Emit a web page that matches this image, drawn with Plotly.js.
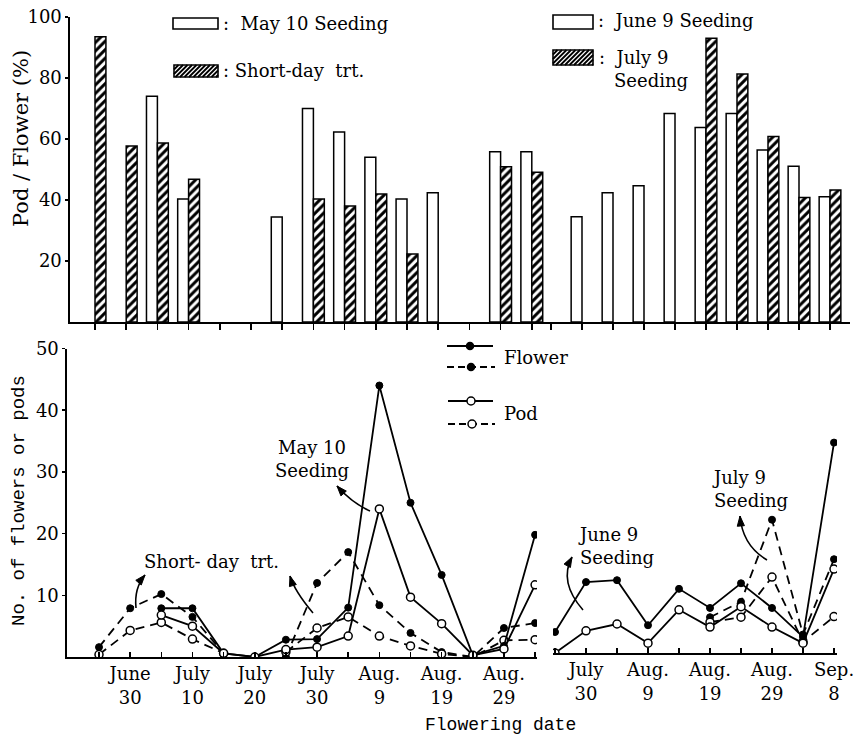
<!DOCTYPE html>
<html><head><meta charset="utf-8">
<script src="https://cdn.plot.ly/plotly-3.0.1.min.js"></script>
<style>html,body{margin:0;padding:0;background:#fff}#chart{width:855px;height:736px}</style>
</head><body><div id="chart"></div>
<script>
// ================= DATA =================
// Top panel: Pod / Flower (%)
const may10RatioDates = ['Jul 5','Jul 10','Jul 25','Jul 30','Aug 4','Aug 9','Aug 14','Aug 19','Aug 29','Sep 3'];
const may10Ratio      = [74, 40.3, 34.4, 70, 62.3, 54, 40.3, 42.4, 55.8, 55.8];
const shortDayRatioDates = ['Jun 25','Jun 30','Jul 5','Jul 10','Jul 30','Aug 4','Aug 9','Aug 14','Aug 29','Sep 3'];
const shortDayRatio      = [93.5, 57.7, 58.7, 46.8, 40.3, 38, 42, 22.3, 50.9, 49.1];
const june9RatioDates = ['Jul 30','Aug 4','Aug 9','Aug 14','Aug 19','Aug 24','Aug 29','Sep 3','Sep 8'];
const june9Ratio      = [34.5, 42.4, 44.7, 68.4, 63.8, 68.4, 56.4, 51.1, 41.1];
const july9RatioDates = ['Aug 19','Aug 24','Aug 29','Sep 3','Sep 8'];
const july9Ratio      = [93, 81.3, 60.8, 40.8, 43.3];

// Bottom panel, left part (May 10 seeding and short-day treatment)
const leftDates      = ['Jun 25','Jun 30','Jul 5','Jul 10','Jul 15','Jul 20','Jul 25','Jul 30','Aug 4','Aug 9','Aug 14','Aug 19','Aug 24','Aug 29','Sep 3'];
const shortDayFlower = [1.6, 7.9, 10.2, 6.5, 0.6, null, 0, 12.0, 17.0, 8.4, 3.9, 0.8, 0, 4.7, 5.5];
const shortDayPod    = [0.4, 4.3, 5.6, 2.9, 0.6, null, 0.8, 4.7, 6.5, 3.4, 1.8, 0.5, 0, 2.7, 2.8];
const may10Flower    = [null, null, 7.9, 7.9, 0.6, 0, 2.8, 2.9, 8.0, 44.0, 25.0, 13.3, 0.3, 1.8, 19.8];
const may10Pod       = [null, null, 6.8, 5.0, 0.6, 0, 1.2, 1.6, 3.4, 24.0, 9.7, 5.4, 0.3, 1.3, 11.7];

// Bottom panel, right part (June 9 and July 9 seedings)
const rightDates  = ['Jul 25','Jul 30','Aug 4','Aug 9','Aug 14','Aug 19','Aug 24','Aug 29','Sep 3','Sep 8'];
const june9Flower = [3.4, 11.5, 11.8, 4.5, 10.4, 7.3, 11.3, 7.3, 2.6, 34.1];
const june9Pod    = [0, 3.6, 4.7, 1.6, 7.0, 4.2, 7.5, 4.2, 1.6, 13.6];
const july9Flower = [null, null, null, null, null, 5.8, 8.3, 21.6, 3.0, 15.2];
const july9Pod    = [null, null, null, null, null, 5.0, 5.8, 12.3, 1.8, 5.9];

// Tick marks and labels
const topLeftTickDates  = ['Jun 25','Jun 30','Jul 5','Jul 10','Jul 15','Jul 20','Jul 25','Jul 30','Aug 4','Aug 9','Aug 14','Aug 19','Aug 24','Aug 29','Sep 3'];
const topRightTickDates = ['Jul 25','Jul 30','Aug 4','Aug 9','Aug 14','Aug 19','Aug 24','Aug 29','Sep 3','Sep 8'];
const leftLabelDates  = ['Jun 30','Jul 10','Jul 20','Jul 30','Aug 9','Aug 19','Aug 29'];
const leftLabels      = ['June<br>30','July<br>10','July<br>20','July<br>30','Aug.<br>9','Aug.<br>19','Aug.<br>29'];
const rightLabelDates = ['Jul 30','Aug 9','Aug 19','Aug 29','Sep 8'];
const rightLabels     = ['July<br>30','Aug.<br>9','Aug.<br>19','Aug.<br>29','Sep.<br>8'];
const ratioTicks = [20, 40, 60, 80, 100];
const countTicks = [10, 20, 30, 40, 50];

// ================= HELPERS =================
const W = 855, H = 736;
const px = v => v / W;
const py = v => 1 - v / H;
const MONTH_START = {Jun: 0, Jul: 30, Aug: 61, Sep: 92};
const day = s => { const p = s.split(' '); return MONTH_START[p[0]] + Number(p[1]); };
const days = arr => arr.map(day);
function rangeFor(pxRef, dRef, pxPerDay, left, right) {
  return [dRef + (left - pxRef) / pxPerDay, dRef + (right - pxRef) / pxPerDay];
}
function tickText(all, labDates, labs) {
  return all.map(d => { const i = labDates.indexOf(d); return i >= 0 ? labs[i] : ''; });
}

const SERIF = 'DejaVu Serif, serif';
const MONO = 'Liberation Mono, monospace';
const BAR_W = 1.75;
const hatch = {shape: '/', fgcolor: '#000', bgcolor: '#fff', size: 6, solidity: 0.5};
const barLine = {color: '#000', width: 1.5};
const solid = {color: '#000', width: 1.8};
const dashed = {color: '#000', width: 1.8, dash: '9px,6px'};
const filledM = {symbol: 'circle', size: 7, color: '#000', line: {color: '#000', width: 1}};
const openM = {symbol: 'circle', size: 8, color: '#fff', line: {color: '#000', width: 1.5}};

function bar(dates, vals, xa, hatched) {
  return {type: 'bar', x: days(dates), y: vals, width: BAR_W, offset: hatched ? 0 : -BAR_W,
    xaxis: xa, yaxis: 'y', hoverinfo: 'skip',
    marker: hatched ? {color: '#fff', pattern: hatch, line: barLine} : {color: '#fff', line: barLine}};
}
function series(dates, vals, xa, ya, ln, mk) {
  return {type: 'scatter', mode: 'lines+markers', x: days(dates), y: vals, xaxis: xa, yaxis: ya,
    line: ln, marker: mk, connectgaps: false, hoverinfo: 'skip'};
}

const traces = [
  bar(may10RatioDates, may10Ratio, 'x', false),
  bar(shortDayRatioDates, shortDayRatio, 'x', true),
  bar(june9RatioDates, june9Ratio, 'x2', false),
  bar(july9RatioDates, july9Ratio, 'x2', true),
  series(leftDates, shortDayFlower, 'x3', 'y2', dashed, filledM),
  series(leftDates, shortDayPod, 'x3', 'y2', dashed, openM),
  series(leftDates, may10Flower, 'x3', 'y2', solid, filledM),
  series(leftDates, may10Pod, 'x3', 'y2', solid, openM),
  series(rightDates, july9Flower, 'x4', 'y3', dashed, filledM),
  series(rightDates, july9Pod, 'x4', 'y3', dashed, openM),
  series(rightDates, june9Flower, 'x4', 'y3', solid, filledM),
  series(rightDates, june9Pod, 'x4', 'y3', solid, openM)
];

// ================= DECORATION =================
const shapes = [];
const annotations = [];
function text(t, x, y, opts) {
  annotations.push(Object.assign({text: t, x: px(x), y: py(y), xref: 'paper', yref: 'paper', showarrow: false,
    xanchor: 'left', yanchor: 'middle', align: 'left', font: {family: SERIF, size: 18, color: '#000'}}, opts || {}));
}
function seg(x0, y0, x1, y1, dash) {
  shapes.push({type: 'line', xref: 'paper', yref: 'paper', x0: px(x0), y0: py(y0), x1: px(x1), y1: py(y1),
    line: {color: '#000', width: 1.8, dash: dash || 'solid'}});
}
function dot(cx, cy, filled) {
  const r = filled ? 3.5 : 4;
  shapes.push({type: 'circle', xref: 'paper', yref: 'paper', x0: px(cx - r), x1: px(cx + r), y0: py(cy + r), y1: py(cy - r),
    fillcolor: filled ? '#000' : '#fff', line: {color: '#000', width: 1.5}});
}
function box(x0, y0, x1, y1, hatched) {
  shapes.push({type: 'rect', xref: 'paper', yref: 'paper', x0: px(x0), x1: px(x1), y0: py(y1), y1: py(y0),
    fillcolor: '#fff', line: {color: '#000', width: 1.6}});
  if (hatched) {
    let d = '';
    const h = y1 - y0;
    for (let t = x0 - h; t < x1; t += 4.5) {
      const s0 = Math.max(0, x0 - t), s1 = Math.min(h, x1 - t);
      if (s1 > s0) d += 'M' + px(t + s0) + ',' + py(y1 - s0) + ' L' + px(t + s1) + ',' + py(y1 - s1) + ' ';
    }
    shapes.push({type: 'path', xref: 'paper', yref: 'paper', path: d, line: {color: '#000', width: 1.8}});
  }
}
function curvedArrow(p0, c, p1) {
  shapes.push({type: 'path', xref: 'paper', yref: 'paper',
    path: 'M' + px(p0[0]) + ',' + py(p0[1]) + ' Q' + px(c[0]) + ',' + py(c[1]) + ' ' + px(p1[0]) + ',' + py(p1[1]),
    line: {color: '#000', width: 1.6}});
  let dx = p1[0] - c[0], dy = p1[1] - c[1];
  const L = Math.hypot(dx, dy); dx /= L; dy /= L;
  const len = 10, hw = 3.6;
  const bx = p1[0] - dx * len, by = p1[1] - dy * len;
  const lx = bx - dy * hw, ly = by + dx * hw, rx = bx + dy * hw, ry = by - dx * hw;
  shapes.push({type: 'path', xref: 'paper', yref: 'paper',
    path: 'M' + px(p1[0]) + ',' + py(p1[1]) + ' L' + px(lx) + ',' + py(ly) + ' L' + px(rx) + ',' + py(ry) + ' Z',
    fillcolor: '#000', line: {color: '#000', width: 1}});
}

// top legend
box(173, 18, 218, 29, false);
text(':\u00a0\u00a0May 10 Seeding', 221, 23, {font: {family: SERIF, size: 18}});
box(174, 65, 218, 77, true);
text(':\u00a0Short-day\u00a0\u00a0trt.', 221, 71);
box(553, 15, 593, 29, false);
text(':\u00a0\u00a0June 9 Seeding', 596, 20);
box(553, 50, 593, 65, true);
text(':\u00a0\u00a0July 9', 597, 58);
text('Seeding', 612, 81);

// bottom legend
seg(447, 346, 493, 346); dot(470, 346, true);
seg(447, 367, 495, 367, '7px,4px'); dot(471, 367, true);
text('Flower', 502, 357);
seg(448, 401, 493, 401); dot(471, 401, false);
seg(448, 424, 495, 424, '7px,4px'); dot(472, 424, false);
text('Pod', 502, 413);

// in-plot labels and arrows
text('May 10<br>Seeding', 312, 459, {xanchor: 'center', align: 'center'});
curvedArrow([370, 511], [352, 503], [337, 486]);
text('Short-\u00a0day\u00a0\u00a0trt.', 211, 561, {xanchor: 'center'});
curvedArrow([136, 608], [134, 588], [145, 575]);
curvedArrow([313, 613], [294.5, 591], [290, 576]);
text('June 9<br>Seeding', 576, 546);
curvedArrow([583, 610], [558.5, 582], [572, 557]);
text('July 9<br>Seeding', 710, 489);
curvedArrow([767, 560], [742.5, 545.5], [740, 516]);

// axis titles
text('Pod\u00a0/\u00a0Flower\u00a0(%)', 21, 139, {textangle: -90, xanchor: 'center', font: {family: SERIF, size: 21}});
text('No.\u00a0of\u00a0flowers\u00a0or\u00a0pods', 19, 501, {textangle: -90, xanchor: 'center', font: {family: MONO, size: 19}});
text('Flowering\u00a0date', 500, 725, {xanchor: 'center', font: {family: MONO, size: 18}});

// ================= AXES =================
const axBase = {showline: true, linecolor: '#000', linewidth: 1.6, showgrid: false, zeroline: false, fixedrange: true,
  tickcolor: '#000', tickwidth: 1.5, tickfont: {family: SERIF, size: 18, color: '#000'}};

const layout = {
  width: W, height: H, margin: {l: 0, r: 0, t: 0, b: 0},
  paper_bgcolor: '#fff', plot_bgcolor: 'rgba(0,0,0,0)', showlegend: false, barmode: 'overlay',
  font: {family: SERIF, size: 18, color: '#000'},
  xaxis: Object.assign({}, axBase, {domain: [px(70), px(545)], range: rangeFor(95, 25, 6.24, 70, 545), anchor: 'y',
    tickmode: 'array', tickvals: days(topLeftTickDates), ticks: 'outside', ticklen: 6, showticklabels: false}),
  xaxis2: Object.assign({}, axBase, {domain: [px(545), px(850)], range: rangeFor(582, 60, 6.2, 545, 850), anchor: 'y',
    tickmode: 'array', tickvals: days(topRightTickDates), ticks: 'outside', ticklen: 6, showticklabels: false}),
  yaxis: Object.assign({}, axBase, {domain: [py(322), py(17)], range: [0, 100], anchor: 'x',
    tickmode: 'array', tickvals: ratioTicks, ticks: 'outside', ticklen: 3}),
  xaxis3: Object.assign({}, axBase, {domain: [px(67), px(537)], range: rangeFor(99, 25, 6.23, 67, 537), anchor: 'y2',
    tickmode: 'array', tickvals: days(topLeftTickDates), ticktext: tickText(topLeftTickDates, leftLabelDates, leftLabels),
    ticks: 'inside', ticklen: 5}),
  yaxis2: Object.assign({}, axBase, {domain: [py(657), py(348.5)], range: [0, 50], anchor: 'x3',
    tickmode: 'array', tickvals: countTicks, ticks: 'outside', ticklen: 3}),
  xaxis4: Object.assign({}, axBase, {domain: [px(553), px(837)], range: rangeFor(555, 55, 6.2, 553, 837), anchor: 'y3',
    tickmode: 'array', tickvals: days(topRightTickDates), ticktext: tickText(topRightTickDates, rightLabelDates, rightLabels),
    ticks: 'inside', ticklen: 5}),
  yaxis3: {domain: [py(653), py(344.5)], range: [0, 50], anchor: 'x4', showline: false, showgrid: false,
    zeroline: false, showticklabels: false, ticks: '', fixedrange: true},
  shapes: shapes,
  annotations: annotations
};

Plotly.newPlot('chart', traces, layout, {staticPlot: true, displayModeBar: false});
</script>
</body></html>
